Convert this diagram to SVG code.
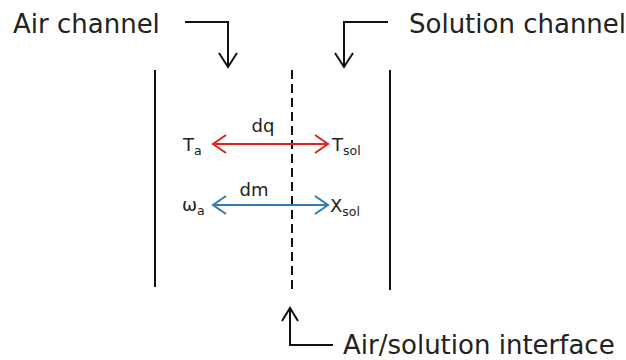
<svg xmlns="http://www.w3.org/2000/svg" width="626" height="360" viewBox="0 0 626 360">
<style>
.lbl{font-family:"DejaVu Sans",Verdana,sans-serif;font-size:26px;fill:#222}
.sym{font-family:"DejaVu Sans",Verdana,sans-serif;font-size:18px;fill:#222}
.sub{font-size:12.5px}
.k{stroke:#111;stroke-width:2;fill:none}
.red{stroke:#e2231a;stroke-width:2;fill:none}
.blue{stroke:#2f7ab8;stroke-width:2;fill:none}
</style>
<rect width="626" height="360" fill="#fff"/>
<g id="air-channel">
<text class="lbl" x="13" y="33">Air channel</text>
</g>
<g id="solution-channel">
<text class="lbl" x="409" y="33">Solution channel</text>
</g>
<g id="interface-label">
<text class="lbl" x="343" y="354">Air/solution interface</text>
</g>
<g id="walls">
<line class="k" x1="155" y1="70" x2="155" y2="287"/>
<line class="k" x1="390" y1="70" x2="390" y2="290"/>
<line class="k" x1="292" y1="70" x2="292" y2="290" stroke-dasharray="9,5"/>
</g>
<g id="heat">
<text class="sym" x="263" y="132" text-anchor="middle">dq</text>
<text class="sym" x="183" y="151">T<tspan class="sub" dy="4">a</tspan></text>
<text class="sym" x="332" y="151">T<tspan class="sub" dy="4">sol</tspan></text>
</g>
<g id="mass">
<text class="sym" x="254" y="196" text-anchor="middle">dm</text>
<text class="sym" x="182" y="211">ω<tspan class="sub" dy="4">a</tspan></text>
<text class="sym" x="330" y="212">X<tspan class="sub" dy="4">sol</tspan></text>
</g>
<g id="connectors">
<polyline class="k" points="185,22 228,22 228,67"/>
<polyline class="k" points="219,53 228,67 237,53"/>
<polyline class="k" points="388,22 344,22 344,67"/>
<polyline class="k" points="335,53 344,67 353,53"/>
<polyline class="k" points="290,308 290,345 333,345"/>
<polyline class="k" points="282,321 290,308 298,321"/>
<line class="red" x1="213" y1="144" x2="328" y2="144"/>
<polyline class="red" points="226,135 213,144 226,153"/>
<polyline class="red" points="315,135 328,144 315,153"/>
<line class="blue" x1="213" y1="205" x2="328" y2="205"/>
<polyline class="blue" points="226,196 213,205 226,214"/>
<polyline class="blue" points="315,196 328,205 315,214"/>
</g>
</svg>
